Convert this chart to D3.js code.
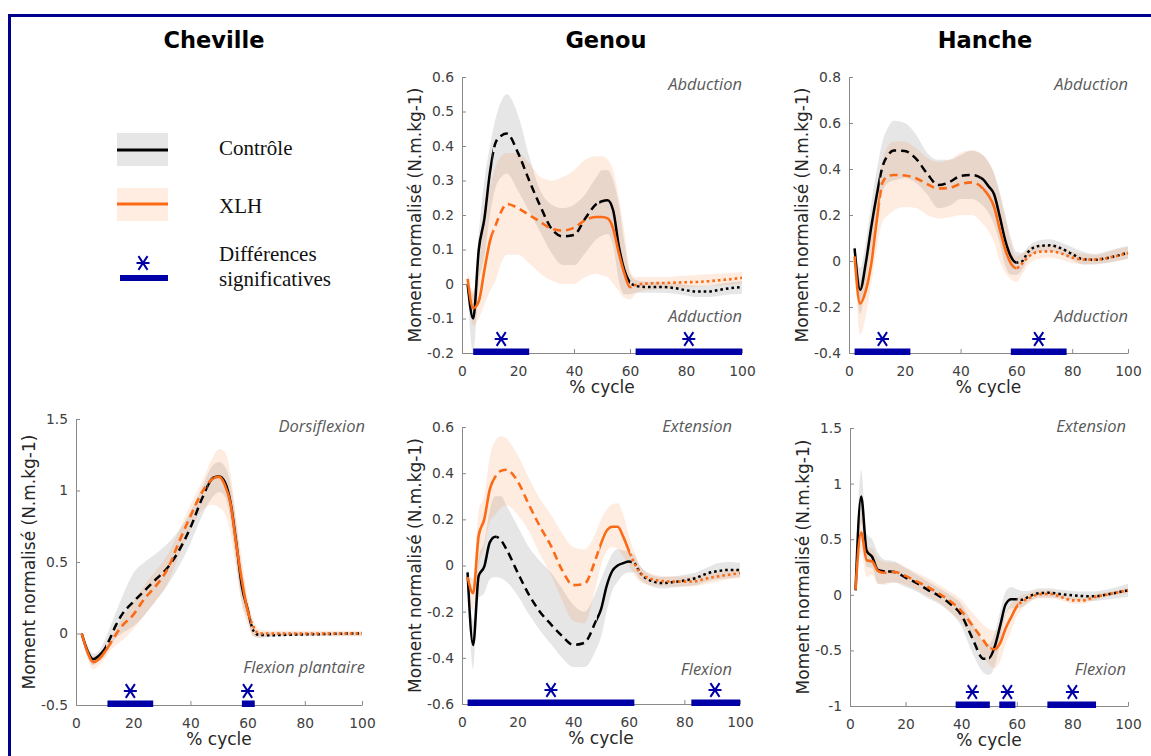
<!DOCTYPE html>
<html><head><meta charset="utf-8">
<script src="https://cdn.jsdelivr.net/npm/d3@7"></script>
<style>body{margin:0;background:#fff}svg{display:block}</style>
</head><body>
<svg id="c" width="1151" height="756"></svg>
<script>
// ---------------- DATA ----------------
const pct = [2,4,6,8,10,12,14,16,20,24,28,32,36,40,44,48,50,52,54,56,58,60,62,64,68,72,76,80,84,88,92,96,100];
const xTicks = [0,20,40,60,80,100];
const columnTitles = ["Cheville","Genou","Hanche"];
const legendLabels = ["Contrôle","XLH","Différences","significatives"];

// Genou - abduction/adduction
const genouAbdCtrl   = [0.0,-0.10,0.10,0.19,0.325,0.41,0.43,0.436,0.38,0.30,0.225,0.16,0.138,0.142,0.19,0.232,0.24,0.243,0.213,0.11,0.04,0.005,-0.005,-0.008,-0.009,-0.009,-0.012,-0.018,-0.022,-0.022,-0.017,-0.012,-0.009];
const genouAbdCtrlLo = [-0.02,-0.20,0.0,0.08,0.2,0.28,0.31,0.32,0.27,0.21,0.15,0.09,0.055,0.055,0.09,0.13,0.14,0.145,0.11,0.01,-0.03,-0.03,-0.025,-0.025,-0.025,-0.025,-0.028,-0.033,-0.038,-0.038,-0.034,-0.03,-0.028];
const genouAbdCtrlHi = [0.02,-0.03,0.15,0.3,0.4,0.48,0.53,0.55,0.49,0.37,0.27,0.23,0.22,0.23,0.26,0.31,0.33,0.33,0.3,0.23,0.12,0.03,0.012,0.008,0.006,0.005,0.002,-0.002,-0.005,-0.005,0.0,0.005,0.008];
const genouAbdXlh    = [0.015,-0.07,-0.05,0.04,0.125,0.17,0.21,0.232,0.22,0.2,0.18,0.16,0.155,0.163,0.185,0.194,0.194,0.19,0.16,0.09,0.03,-0.009,-0.003,0.0,0.002,0.003,0.004,0.005,0.006,0.008,0.011,0.014,0.018];
const genouAbdXlhLo  = [-0.01,-0.12,-0.1,-0.06,-0.02,0.01,0.06,0.085,0.085,0.06,0.03,0.01,0.0,0.0,0.02,0.03,0.025,0.02,0.0,-0.02,-0.04,-0.045,-0.03,-0.02,-0.016,-0.014,-0.012,-0.01,-0.008,-0.006,-0.004,-0.002,0.0];
const genouAbdXlhHi  = [0.04,-0.02,0.05,0.2,0.28,0.34,0.37,0.38,0.38,0.35,0.31,0.3,0.31,0.33,0.36,0.37,0.37,0.36,0.33,0.25,0.15,0.04,0.02,0.02,0.02,0.02,0.022,0.024,0.026,0.028,0.03,0.032,0.035];

// Hanche - abduction/adduction
const hancheAbdCtrl   = [0.055,-0.125,-0.01,0.15,0.29,0.41,0.46,0.48,0.478,0.445,0.38,0.33,0.343,0.37,0.374,0.355,0.325,0.29,0.195,0.09,0.02,-0.007,-0.002,0.036,0.065,0.068,0.055,0.03,0.007,0.005,0.012,0.022,0.037];
const hancheAbdCtrlLo = [0.03,-0.23,-0.1,0.05,0.18,0.3,0.34,0.35,0.36,0.34,0.29,0.23,0.24,0.27,0.27,0.24,0.21,0.16,0.08,-0.02,-0.06,-0.06,-0.04,0.005,0.04,0.045,0.03,0.005,-0.015,-0.015,-0.01,0.0,0.01];
const hancheAbdCtrlHi = [0.08,-0.03,0.08,0.25,0.4,0.52,0.58,0.61,0.6,0.55,0.47,0.44,0.44,0.46,0.48,0.46,0.43,0.38,0.3,0.2,0.1,0.04,0.035,0.06,0.09,0.095,0.08,0.06,0.04,0.03,0.04,0.055,0.065];
const hancheAbdXlh    = [0.02,-0.185,-0.13,-0.01,0.18,0.34,0.37,0.374,0.372,0.36,0.335,0.315,0.318,0.335,0.342,0.315,0.285,0.236,0.14,0.05,-0.01,-0.031,-0.012,0.015,0.04,0.042,0.033,0.015,0.006,0.006,0.012,0.022,0.034];
const hancheAbdXlhLo  = [0.0,-0.32,-0.24,-0.1,0.06,0.17,0.2,0.22,0.235,0.23,0.2,0.185,0.19,0.2,0.2,0.16,0.13,0.08,0.0,-0.05,-0.08,-0.09,-0.06,-0.02,0.01,0.015,0.005,-0.01,-0.015,-0.012,-0.008,0.0,0.01];
const hancheAbdXlhHi  = [0.04,-0.08,-0.02,0.12,0.3,0.44,0.5,0.52,0.52,0.49,0.45,0.43,0.44,0.47,0.48,0.46,0.43,0.38,0.29,0.19,0.08,0.02,0.03,0.05,0.07,0.07,0.06,0.04,0.03,0.025,0.035,0.05,0.06];

// Cheville - dorsiflexion / flexion plantaire
const chevCtrl   = [0.0,-0.12,-0.18,-0.155,-0.11,-0.03,0.06,0.13,0.22,0.3,0.38,0.46,0.58,0.74,0.94,1.09,1.1,1.06,0.92,0.64,0.33,0.17,0.02,-0.01,-0.012,-0.01,-0.008,-0.006,-0.005,-0.003,-0.002,0.0,0.0];
const chevCtrlLo = [-0.01,-0.16,-0.22,-0.19,-0.16,-0.09,-0.03,0.0,0.05,0.13,0.23,0.34,0.47,0.63,0.82,0.96,0.99,0.96,0.8,0.5,0.22,0.1,-0.02,-0.03,-0.025,-0.02,-0.018,-0.016,-0.015,-0.015,-0.015,-0.015,-0.015];
const chevCtrlHi = [0.01,-0.08,-0.14,-0.12,-0.05,0.05,0.15,0.25,0.42,0.5,0.56,0.63,0.72,0.85,1.02,1.18,1.2,1.17,1.05,0.78,0.45,0.22,0.06,0.01,0.008,0.008,0.008,0.008,0.008,0.008,0.008,0.008,0.008];
const chevXlh    = [0.0,-0.13,-0.2,-0.18,-0.13,-0.07,-0.005,0.05,0.13,0.245,0.335,0.45,0.64,0.82,0.985,1.085,1.097,1.04,0.91,0.63,0.37,0.16,0.05,0.0,0.0,0.0,0.0,0.0,0.0,0.0,0.0,0.0,0.0];
const chevXlhLo  = [-0.01,-0.17,-0.25,-0.22,-0.18,-0.12,-0.08,-0.05,0.03,0.13,0.23,0.35,0.54,0.72,0.86,0.9,0.88,0.84,0.7,0.45,0.2,0.06,-0.02,-0.03,-0.02,-0.02,-0.02,-0.02,-0.02,-0.02,-0.02,-0.02,-0.02];
const chevXlhHi  = [0.01,-0.09,-0.16,-0.15,-0.1,-0.04,0.03,0.1,0.22,0.34,0.44,0.55,0.72,0.9,1.06,1.24,1.29,1.27,1.12,0.82,0.52,0.26,0.1,0.03,0.02,0.02,0.02,0.02,0.02,0.02,0.02,0.02,0.02];

// Genou - extension / flexion
const genouExtCtrl   = [-0.03,-0.344,-0.045,-0.005,0.1,0.125,0.11,0.07,-0.03,-0.125,-0.2,-0.255,-0.305,-0.344,-0.335,-0.245,-0.19,-0.09,-0.025,0.0,0.01,0.017,0.01,-0.03,-0.066,-0.076,-0.072,-0.065,-0.055,-0.035,-0.024,-0.019,-0.019];
const genouExtCtrlLo = [-0.05,-0.45,-0.14,-0.12,-0.06,-0.05,-0.055,-0.07,-0.13,-0.21,-0.28,-0.34,-0.4,-0.44,-0.44,-0.37,-0.31,-0.2,-0.11,-0.07,-0.04,-0.03,-0.03,-0.06,-0.09,-0.1,-0.095,-0.09,-0.085,-0.07,-0.06,-0.055,-0.05];
const genouExtCtrlHi = [-0.01,-0.24,0.04,0.1,0.24,0.3,0.3,0.26,0.17,0.08,0.02,-0.03,-0.1,-0.17,-0.2,-0.12,-0.06,0.0,0.05,0.07,0.065,0.06,0.045,0.0,-0.04,-0.05,-0.048,-0.04,-0.03,-0.01,0.01,0.015,0.012];
const genouExtXlh    = [-0.05,-0.12,0.13,0.2,0.33,0.385,0.41,0.415,0.365,0.265,0.17,0.085,-0.02,-0.085,-0.08,0.025,0.095,0.15,0.168,0.168,0.125,0.065,0.01,-0.03,-0.058,-0.067,-0.07,-0.07,-0.068,-0.056,-0.047,-0.04,-0.033];
const genouExtXlhLo  = [-0.08,-0.2,0.0,0.08,0.19,0.22,0.25,0.26,0.22,0.15,0.05,-0.04,-0.15,-0.24,-0.25,-0.1,0.0,0.06,0.08,0.07,0.04,0.0,-0.04,-0.07,-0.085,-0.09,-0.092,-0.092,-0.09,-0.08,-0.07,-0.06,-0.055];
const genouExtXlhHi  = [-0.02,-0.06,0.24,0.3,0.47,0.54,0.56,0.55,0.48,0.38,0.29,0.22,0.14,0.08,0.07,0.14,0.2,0.24,0.265,0.27,0.22,0.13,0.06,0.0,-0.035,-0.045,-0.048,-0.048,-0.045,-0.035,-0.025,-0.02,-0.012];

// Hanche - extension / flexion
const hancheExtCtrl   = [0.04,0.885,0.395,0.34,0.225,0.212,0.21,0.205,0.155,0.105,0.045,-0.01,-0.08,-0.18,-0.39,-0.575,-0.57,-0.47,-0.28,-0.085,-0.04,-0.04,-0.045,-0.02,0.015,0.018,0.005,-0.005,-0.012,-0.014,0.0,0.02,0.04];
const hancheExtCtrlLo = [0.02,0.65,0.25,0.24,0.1,0.1,0.11,0.11,0.07,0.03,-0.03,-0.08,-0.16,-0.28,-0.52,-0.7,-0.72,-0.65,-0.42,-0.18,-0.12,-0.12,-0.11,-0.07,-0.025,-0.025,-0.035,-0.045,-0.055,-0.055,-0.045,-0.03,-0.02];
const hancheExtCtrlHi = [0.06,1.12,0.55,0.5,0.38,0.32,0.31,0.3,0.24,0.18,0.12,0.06,0.0,-0.08,-0.25,-0.42,-0.44,-0.35,-0.15,0.03,0.07,0.05,0.035,0.035,0.06,0.06,0.045,0.035,0.03,0.03,0.045,0.07,0.1];
const hancheExtXlh    = [0.045,0.56,0.31,0.3,0.215,0.198,0.2,0.205,0.17,0.12,0.07,0.01,-0.055,-0.145,-0.275,-0.41,-0.475,-0.49,-0.435,-0.3,-0.2,-0.105,-0.06,-0.035,0.005,0.008,-0.02,-0.05,-0.05,-0.02,0.0,0.02,0.04];
const hancheExtXlhLo  = [0.03,0.38,0.16,0.18,0.1,0.09,0.1,0.11,0.09,0.04,-0.01,-0.07,-0.15,-0.25,-0.39,-0.56,-0.63,-0.66,-0.6,-0.44,-0.32,-0.19,-0.12,-0.08,-0.03,-0.03,-0.05,-0.08,-0.08,-0.05,-0.02,0.0,0.015];
const hancheExtXlhHi  = [0.06,0.75,0.42,0.42,0.33,0.3,0.29,0.29,0.25,0.2,0.15,0.09,0.03,-0.04,-0.16,-0.27,-0.31,-0.32,-0.28,-0.17,-0.08,-0.03,0.0,0.01,0.04,0.04,0.01,-0.02,-0.02,0.005,0.02,0.04,0.065];

// y tick labels per panel
const genouAbdTicks  = [-0.2,-0.1,0,0.1,0.2,0.3,0.4,0.5,0.6];
const hancheAbdTicks = [-0.4,-0.2,0,0.2,0.4,0.6,0.8];
const chevTicks      = [-0.5,0,0.5,1,1.5];
const genouExtTicks  = [-0.6,-0.4,-0.2,0,0.2,0.4,0.6];
const hancheExtTicks = [-1,-0.5,0,0.5,1,1.5];

// significant-difference ranges (% cycle) and star positions
const genouAbdSig  = [[4,24],[62,100]];     const genouAbdStars  = [14,81];
const hancheAbdSig = [[2,22],[58,78]];      const hancheAbdStars = [12,68];
const chevSig      = [[11,27],[58,62.5]];   const chevStars      = [19,60];
const genouExtSig  = [[2,62],[82.5,100]];   const genouExtStars  = [32,91];
const hancheExtSig = [[38,50.3],[53.7,59.5],[71,88.5]]; const hancheExtStars = [44,56.6,80];

// gait-phase breakpoints (% cycle) where line style changes: solid | dashed | solid | dotted
const genouAbdCtrlPh = [11,49,60],   genouAbdXlhPh = [11,46,60];
const hancheAbdCtrlPh = [11,47,60],  hancheAbdXlhPh = [11,48,60];
const chevCtrlPh = [10.5,46,61],     chevXlhPh = [11.5,48,61];
const genouExtCtrlPh = [12.5,48.5,61], genouExtXlhPh = [11.5,49.5,60.5];
const hancheExtCtrlPh = [12.5,50,60],  hancheExtXlhPh = [12.5,50.5,60.5];

// ---------------- STYLE / LAYOUT ----------------
const ORANGE = "#fb6a14", BLUE = "#0000a6", FRAME = "#00008c";
const SANS = "'DejaVu Sans', Verdana, sans-serif";
const SERIF = "'Liberation Serif', 'Times New Roman', serif";
const ITAL = "'Open Sans', 'DejaVu Sans', sans-serif";

const panels = [
  {box:{l:462,r:742,t:77,b:353}, dom:[-0.2,0.6], ticks:genouAbdTicks,
   ctrl:genouAbdCtrl, ctrlLo:genouAbdCtrlLo, ctrlHi:genouAbdCtrlHi, xlh:genouAbdXlh, xlhLo:genouAbdXlhLo, xlhHi:genouAbdXlhHi,
   cPh:genouAbdCtrlPh, xPh:genouAbdXlhPh, sig:genouAbdSig, stars:genouAbdStars,
   top:"Abduction", bot:"Adduction", ax:742, topY:90, botY:322},
  {box:{l:849,r:1128,t:77,b:353}, dom:[-0.4,0.8], ticks:hancheAbdTicks,
   ctrl:hancheAbdCtrl, ctrlLo:hancheAbdCtrlLo, ctrlHi:hancheAbdCtrlHi, xlh:hancheAbdXlh, xlhLo:hancheAbdXlhLo, xlhHi:hancheAbdXlhHi,
   cPh:hancheAbdCtrlPh, xPh:hancheAbdXlhPh, sig:hancheAbdSig, stars:hancheAbdStars,
   top:"Abduction", bot:"Adduction", ax:1128, topY:90, botY:322},
  {box:{l:76,r:362,t:419,b:705}, dom:[-0.5,1.5], ticks:chevTicks,
   ctrl:chevCtrl, ctrlLo:chevCtrlLo, ctrlHi:chevCtrlHi, xlh:chevXlh, xlhLo:chevXlhLo, xlhHi:chevXlhHi,
   cPh:chevCtrlPh, xPh:chevXlhPh, sig:chevSig, stars:chevStars,
   top:"Dorsiflexion", bot:"Flexion plantaire", ax:365, topY:432, botY:673},
  {box:{l:462,r:740,t:427,b:704}, dom:[-0.6,0.6], ticks:genouExtTicks,
   ctrl:genouExtCtrl, ctrlLo:genouExtCtrlLo, ctrlHi:genouExtCtrlHi, xlh:genouExtXlh, xlhLo:genouExtXlhLo, xlhHi:genouExtXlhHi,
   cPh:genouExtCtrlPh, xPh:genouExtXlhPh, sig:genouExtSig, stars:genouExtStars,
   top:"Extension", bot:"Flexion", ax:732, topY:432, botY:675},
  {box:{l:850,r:1128,t:428,b:706}, dom:[-1,1.5], ticks:hancheExtTicks,
   ctrl:hancheExtCtrl, ctrlLo:hancheExtCtrlLo, ctrlHi:hancheExtCtrlHi, xlh:hancheExtXlh, xlhLo:hancheExtXlhLo, xlhHi:hancheExtXlhHi,
   cPh:hancheExtCtrlPh, xPh:hancheExtXlhPh, sig:hancheExtSig, stars:hancheExtStars,
   top:"Extension", bot:"Flexion", ax:1126, topY:432, botY:675}
];

// ---------------- DRAW ----------------
const svg = d3.select("#c");
const defs = svg.append("defs");

// frame
svg.append("line").attr("x1",8).attr("x2",1151).attr("y1",15.5).attr("y2",15.5).attr("stroke",FRAME).attr("stroke-width",3);
svg.append("line").attr("x1",9.5).attr("x2",9.5).attr("y1",14).attr("y2",756).attr("stroke",FRAME).attr("stroke-width",3);

// column titles
const titleX = [214, 606, 985];
columnTitles.forEach((t,i)=>{
  svg.append("text").attr("x",titleX[i]).attr("y",48).attr("text-anchor","middle")
    .attr("font-family",SANS).attr("font-weight","bold").attr("font-size",22.5).attr("fill","#000").text(t);
});

function drawStar(g, cx, cy, r){
  const p = d3.path();
  p.moveTo(cx-r, cy); p.lineTo(cx+r, cy);
  p.moveTo(cx-r*0.7, cy-r*1.05); p.lineTo(cx+r*0.7, cy+r*1.05);
  p.moveTo(cx-r*0.7, cy+r*1.05); p.lineTo(cx+r*0.7, cy-r*1.05);
  g.append("path").attr("d",p.toString()).attr("stroke",BLUE).attr("stroke-width",2).attr("fill","none");
}

// legend
const lg = svg.append("g");
lg.append("rect").attr("x",117).attr("y",133).attr("width",51).attr("height",33).attr("fill","#808080").attr("fill-opacity",0.2);
lg.append("line").attr("x1",117).attr("x2",168).attr("y1",150).attr("y2",150).attr("stroke","#000").attr("stroke-width",3);
lg.append("rect").attr("x",117).attr("y",188).attr("width",51).attr("height",33).attr("fill",ORANGE).attr("fill-opacity",0.12);
lg.append("line").attr("x1",117).attr("x2",168).attr("y1",204).attr("y2",204).attr("stroke",ORANGE).attr("stroke-width",3);
lg.append("rect").attr("x",120).attr("y",275).attr("width",48).attr("height",6).attr("fill",BLUE);
drawStar(lg,143,263,6.5);
const legY = [155, 213, 261, 286];
legendLabels.forEach((t,i)=>{
  lg.append("text").attr("x",219).attr("y",legY[i]).attr("font-family",SERIF).attr("font-size",21).attr("fill","#111").text(t);
});

let clipId = 0;
panels.forEach(P=>{
  const x = d3.scaleLinear().domain([0,100]).range([P.box.l,P.box.r]);
  const y = d3.scaleLinear().domain(P.dom).range([P.box.b,P.box.t]);
  const g = svg.append("g");

  // bands
  const area = (lo,hi)=>d3.area().x((d,i)=>x(pct[i])).y0((d,i)=>y(lo[i])).y1((d,i)=>y(hi[i])).curve(d3.curveMonotoneX)(pct);
  g.append("path").attr("d",area(P.ctrlLo,P.ctrlHi)).attr("fill","#808080").attr("fill-opacity",0.2);
  g.append("path").attr("d",area(P.xlhLo,P.xlhHi)).attr("fill",ORANGE).attr("fill-opacity",0.13);

  // axes
  const fmt = v=>String(v);
  const ya = g.append("g").attr("transform",`translate(${P.box.l},0)`)
    .call(d3.axisLeft(y).tickValues(P.ticks).tickFormat(fmt).tickSizeInner(-4).tickSizeOuter(0).tickPadding(8));
  const xa = g.append("g").attr("transform",`translate(0,${P.box.b})`)
    .call(d3.axisBottom(x).tickValues(xTicks).tickFormat(fmt).tickSizeInner(-4).tickSizeOuter(0).tickPadding(13));
  [ya,xa].forEach(a=>{
    a.attr("font-family",SANS).attr("font-size",13.8);
    a.select(".domain").attr("stroke","#8a8a8a");
    a.selectAll(".tick line").attr("stroke","#8a8a8a");
    a.selectAll(".tick text").attr("fill","#404040");
  });
  g.append("text").attr("x",(P.box.l+P.box.r)/2).attr("y",P.box.b+40).attr("text-anchor","middle")
    .attr("font-family",SANS).attr("font-size",17).attr("fill","#262626").text("% cycle");
  g.append("text").attr("transform",`translate(${P.box.l-41},${(P.box.t+P.box.b)/2}) rotate(-90)`).attr("text-anchor","middle")
    .attr("font-family",SANS).attr("font-size",17).attr("fill","#262626").text("Moment normalisé (N.m.kg-1)");

  // annotations
  g.append("text").attr("x",P.ax).attr("y",P.topY).attr("text-anchor","end").attr("font-family",ITAL)
    .attr("font-style","italic").attr("font-size",16.5).attr("fill","#595959").text(P.top);
  g.append("text").attr("x",P.ax).attr("y",P.botY).attr("text-anchor","end").attr("font-family",ITAL)
    .attr("font-style","italic").attr("font-size",16.5).attr("fill","#595959").text(P.bot);

  // mean lines, styled by phase via clip regions
  const styles = [null,"8,5",null,"2.6,3"];
  const series = [[P.ctrl,P.cPh,"#000",2.5],[P.xlh,P.xPh,ORANGE,2.6]];
  series.forEach(([vals,ph,col,w])=>{
    const lineD = d3.line().x((d,i)=>x(pct[i])).y((d,i)=>y(vals[i])).curve(d3.curveMonotoneX)(pct);
    const edges = [-5, ...ph, 105];
    for(let s=0;s<4;s++){
      const id = "clip"+(clipId++);
      defs.append("clipPath").attr("id",id).append("rect")
        .attr("x",x(edges[s])).attr("width",x(edges[s+1])-x(edges[s])).attr("y",0).attr("height",756);
      const p = g.append("path").attr("d",lineD).attr("fill","none").attr("stroke",col)
        .attr("stroke-width",w).attr("clip-path",`url(#${id})`).attr("stroke-linejoin","round");
      if(styles[s]) p.attr("stroke-dasharray",styles[s]);
    }
  });

  // significance bars and stars
  P.sig.forEach(([a,b])=>{
    g.append("rect").attr("x",x(a)).attr("width",x(b)-x(a)).attr("y",P.box.b-4.5).attr("height",6.5).attr("fill",BLUE);
  });
  P.stars.forEach(s=>drawStar(g,x(s),P.box.b-14,6.5));
});
</script>
</body></html>
